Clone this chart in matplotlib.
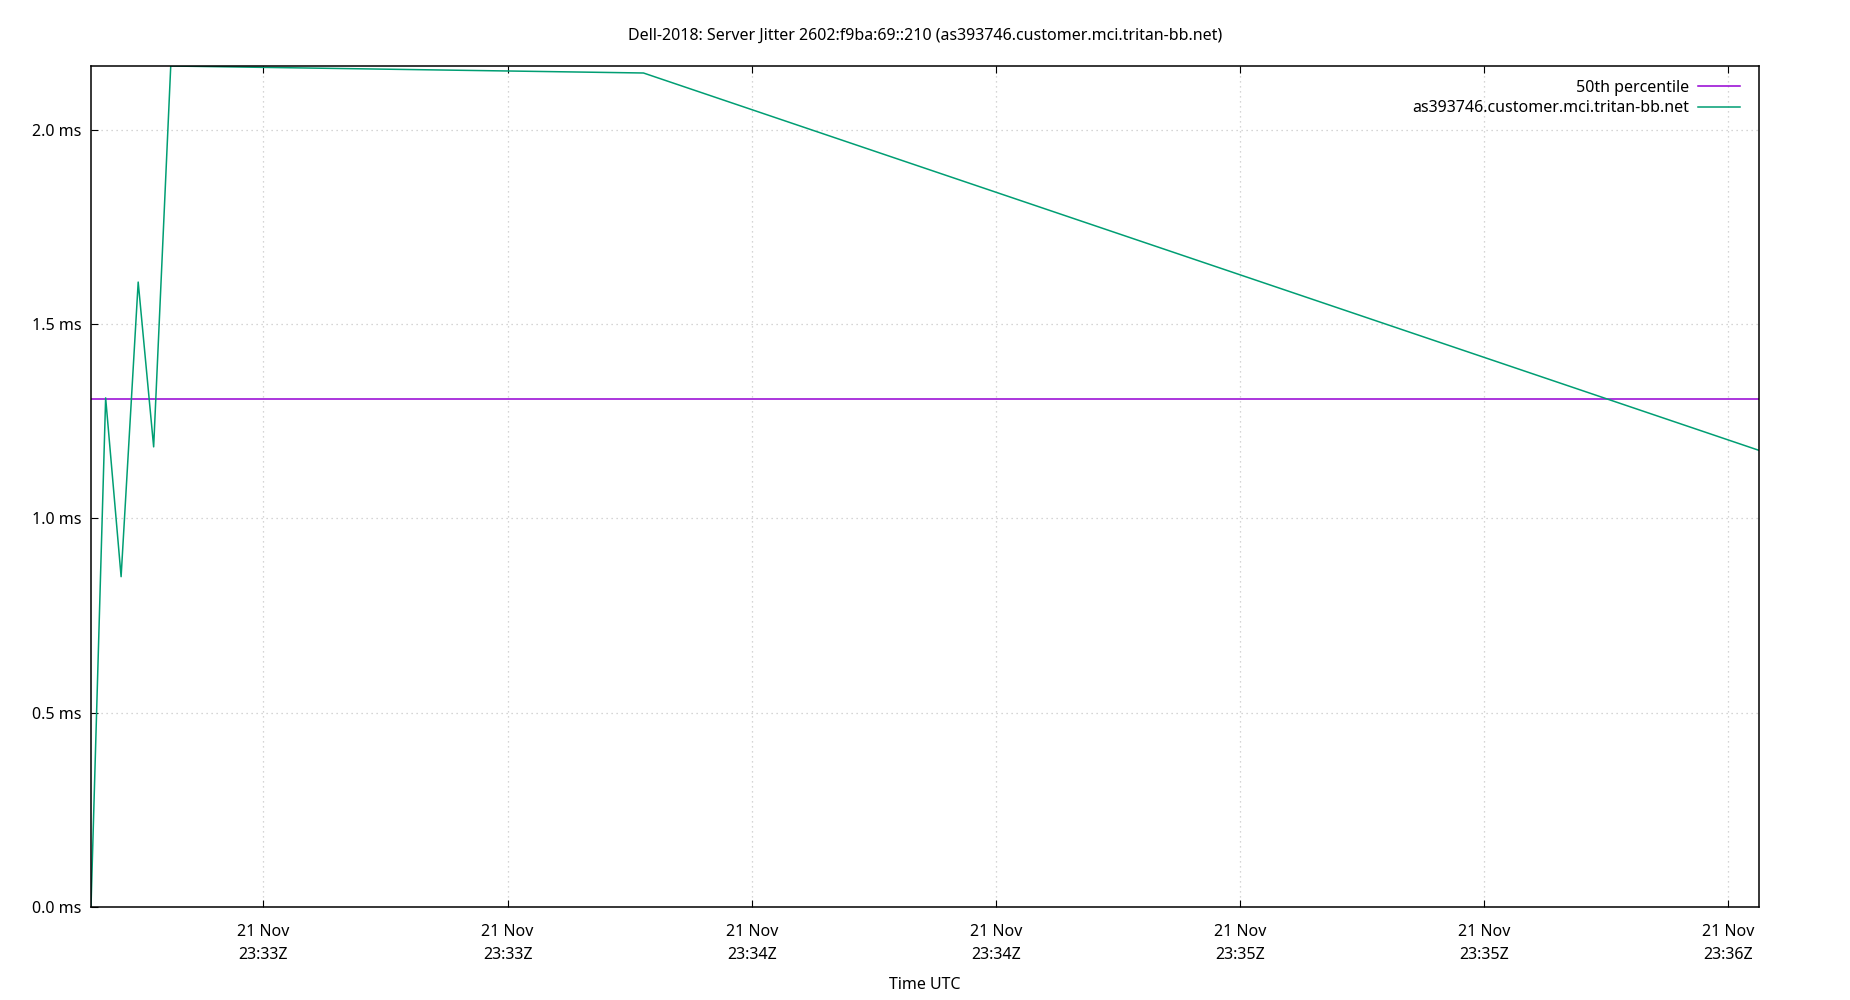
import matplotlib
matplotlib.use("Agg")
import matplotlib.pyplot as plt
import matplotlib.dates as mdates
import pandas as pd

plt.rcParams["font.family"] = ["Noto Sans", "DejaVu Sans"]

# jitter samples (UTC, ms)
times = pd.to_datetime([
    "2018-11-21 23:32:38.8",
    "2018-11-21 23:32:40.6",
    "2018-11-21 23:32:42.5",
    "2018-11-21 23:32:44.6",
    "2018-11-21 23:32:46.5",
    "2018-11-21 23:32:48.6",
    "2018-11-21 23:33:46.7",
    "2018-11-21 23:36:03.8",
])
jitter_ms = [0.0, 1.31, 0.85, 1.608, 1.184, 2.164, 2.146, 1.175]
p50_ms = 1.308

host = "as393746.customer.mci.tritan-bb.net"
title = "Dell-2018: Server Jitter 2602:f9ba:69::210 (" + host + ")"

fig = plt.figure(figsize=(18.5, 10), dpi=100)
ax = fig.add_axes([91 / 1850, 93 / 1000, (1759 - 91) / 1850, (907 - 66) / 1000])

ax.axhline(p50_ms, color="#9400D3", lw=1.1, label="50th percentile")
ax.plot(times, jitter_ms, color="#009E73", lw=1.1, label=host)

ax.set_xlim(times[0], times[-1])
ax.set_ylim(0, max(jitter_ms))

ax.xaxis.set_major_locator(mdates.SecondLocator(bysecond=[0, 30]))
ax.xaxis.set_major_formatter(mdates.DateFormatter("%d %b\n%H:%MZ"))
ax.yaxis.set_major_locator(plt.MultipleLocator(0.5))
ax.yaxis.set_major_formatter(plt.FuncFormatter(lambda v, p: f"{v:.1f} ms"))

ax.tick_params(axis="x", direction="in", length=5, top=True, pad=12, labelsize=11.5)
ax.tick_params(axis="y", direction="in", length=5, right=False, pad=7, labelsize=11.5)
for lbl in ax.get_xticklabels():
    lbl.set_linespacing(1.6)

ax.grid(True, color="#c8c8c8", linestyle=(0, (1, 3)), lw=0.9)
for s in ax.spines.values():
    s.set_linewidth(1.1)

ax.set_xlabel("Time UTC", fontsize=11.5, labelpad=10)
fig.text(0.5, 1 - 35.5 / 1000, title, ha="center", va="center", fontsize=11.5)

ax.legend(loc="upper right", frameon=False, markerfirst=False, fontsize=11.5,
          handlelength=2.6, handletextpad=0.58, borderaxespad=0.4, labelspacing=0.3,
          bbox_to_anchor=(0.996, 0.999))

fig.savefig("out.png", dpi=100, facecolor="white")
